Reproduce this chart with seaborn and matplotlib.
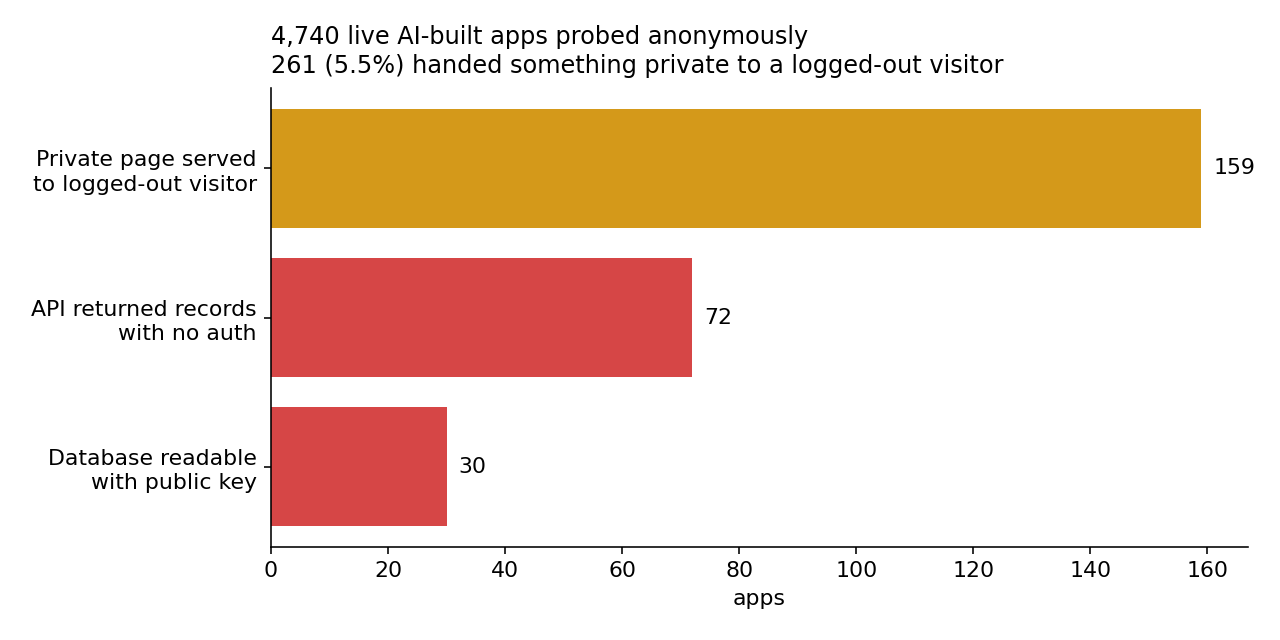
import matplotlib
matplotlib.use("Agg")
import matplotlib.pyplot as plt
import seaborn as sns
import pandas as pd

categories = ["Private page served\nto logged-out visitor",
              "API returned records\nwith no auth",
              "Database readable\nwith public key"]
counts = [159, 72, 30]
colors = ["#D4991A", "#D64646", "#D64646"]
title_lines = ["4,740 live AI-built apps probed anonymously",
               "261 (5.5%) handed something private to a logged-out visitor"]

plt.rcParams['font.family'] = ['DejaVu Sans']

DPI = 144
fig = plt.figure(figsize=(1280 / DPI, 640 / DPI), dpi=DPI)
ax = fig.add_axes([271 / 1280, 1 - 547 / 640, (1248 - 271) / 1280, (547 - 88) / 640])

df = pd.DataFrame({"category": categories, "apps": counts})
sns.barplot(data=df, y="category", x="apps", hue="category", palette=colors,
            orient="h", width=0.8, legend=False, ax=ax, saturation=1)

for i, v in enumerate(counts):
    ax.text(v + 2, i, str(v), va="center", ha="left", fontsize=11, color="black")

ax.set_xlim(0, 159 * 1.05)
ax.set_ylim(2.54, -0.54)
ax.set_ylabel("")
ax.set_xlabel("apps", fontsize=11)
ax.tick_params(labelsize=11, colors="black")
for lbl in ax.get_yticklabels():
    lbl.set_linespacing(1.3)
ax.set_title("\n".join(title_lines), loc="left", fontsize=12, ha="left",
             pad=7.5, linespacing=1.25)
for s in ["top", "right"]:
    ax.spines[s].set_visible(False)

fig.savefig("out.png", dpi=DPI)
